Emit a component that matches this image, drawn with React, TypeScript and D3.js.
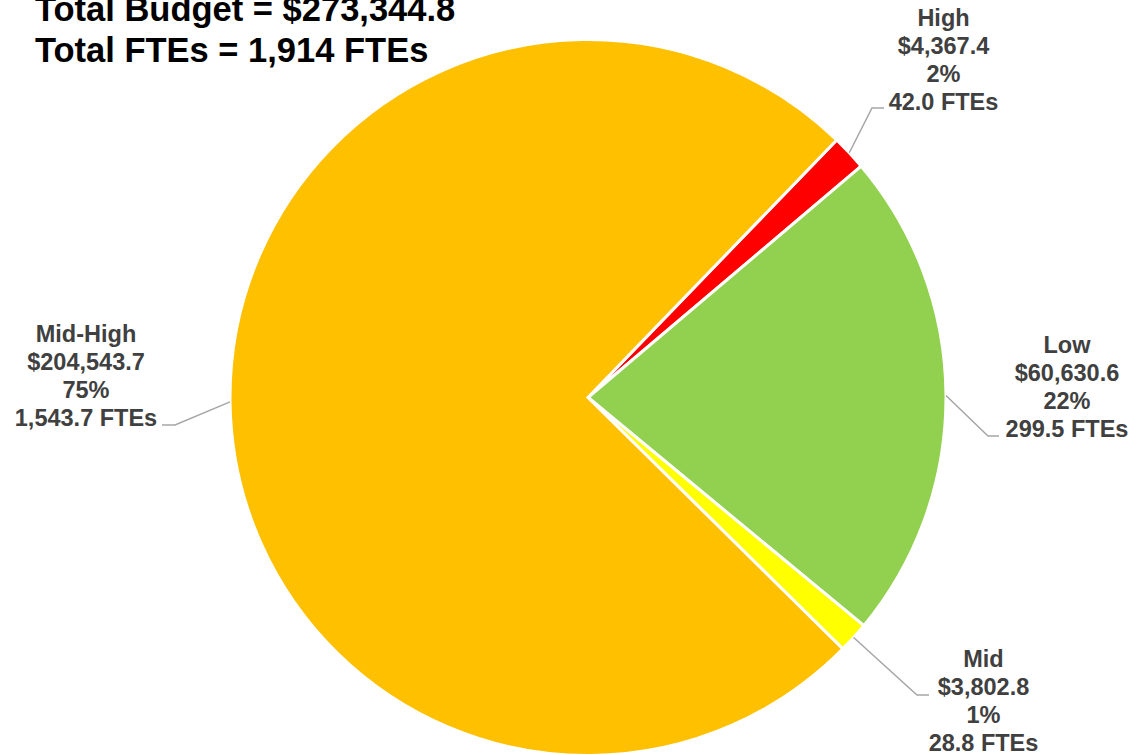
import React from "react";
import * as d3 from "d3";

const categories = ["High", "Low", "Mid", "Mid-High"];
const budgets = [4367.4, 60630.6, 3802.8, 204543.7];
const ftes = [42.0, 299.5, 28.8, 1543.7];
const colors = ["#FF0000", "#92D050", "#FFFF00", "#FFC000"];
const titleLines = ["Total Budget = $273,344.8", "Total FTEs = 1,914 FTEs"];

// layout of manually placed data labels: elbow point of leader and label text center
const labelLayout = [
  { elbow: [872, 108], end: [884, 108], cx: 943.5, top: 18 },
  { elbow: [988, 436], end: [999, 436], cx: 1067, top: 345 },
  { elbow: [917, 695], end: [929, 695], cx: 983.5, top: 659 },
  { elbow: [175, 425], end: [162, 425], cx: 86, top: 334 },
];

const W = 1139;
const H = 754;
const CX = 588;
const CY = 397.5;
const R = 358;
const START_DEG = 44;

export default function App() {
  const total = d3.sum(budgets);
  const pie = d3
    .pie<number>()
    .sort(null)
    .value((d) => d)
    .startAngle((START_DEG * Math.PI) / 180)
    .endAngle((START_DEG * Math.PI) / 180 + 2 * Math.PI);
  const arcs = pie(budgets);
  const arc = d3.arc<d3.PieArcDatum<number>>().innerRadius(0).outerRadius(R);
  const money = d3.format(",.1f");
  const pct = d3.format(".0%");
  const font = "'Liberation Sans', Arial, Helvetica, sans-serif";
  const lineH = 27.8;

  return (
    <svg
      width={W}
      height={H}
      style={{ position: "absolute", left: 0, top: 0, background: "#fff" }}
    >
      <g transform={`translate(${CX},${CY})`}>
        {arcs.map((a, i) => (
          <path
            key={categories[i]}
            d={arc(a) || ""}
            fill={colors[i]}
            stroke="#fff"
            strokeWidth={3}
            strokeLinejoin="miter"
          />
        ))}
      </g>
      {arcs.map((a, i) => {
        const mid = (a.startAngle + a.endAngle) / 2;
        const sx = CX + Math.sin(mid) * R;
        const sy = CY - Math.cos(mid) * R;
        const L = labelLayout[i];
        return (
          <polyline
            key={"l" + i}
            points={`${sx},${sy} ${L.elbow[0]},${L.elbow[1]} ${L.end[0]},${L.end[1]}`}
            fill="none"
            stroke="#A6A6A6"
            strokeWidth={1.5}
          />
        );
      })}
      {categories.map((c, i) => {
        const L = labelLayout[i];
        const lines = [
          c,
          "$" + money(budgets[i]),
          pct(budgets[i] / total),
          money(ftes[i]) + " FTEs",
        ];
        return (
          <text
            key={"t" + i}
            textAnchor="middle"
            fontFamily={font}
            fontWeight="bold"
            fontSize={23.5}
            fill="#404040"
          >
            {lines.map((ln, j) => (
              <tspan key={j} x={L.cx} y={L.top + j * lineH} dy="0.35em">
                {ln}
              </tspan>
            ))}
          </text>
        );
      })}
      <text fontFamily={font} fontWeight="bold" fontSize={34.5} fill="#000">
        {titleLines.map((t, j) => (
          <tspan key={j} x={35} y={21 + j * 40.7}>
            {t}
          </tspan>
        ))}
      </text>
    </svg>
  );
}
